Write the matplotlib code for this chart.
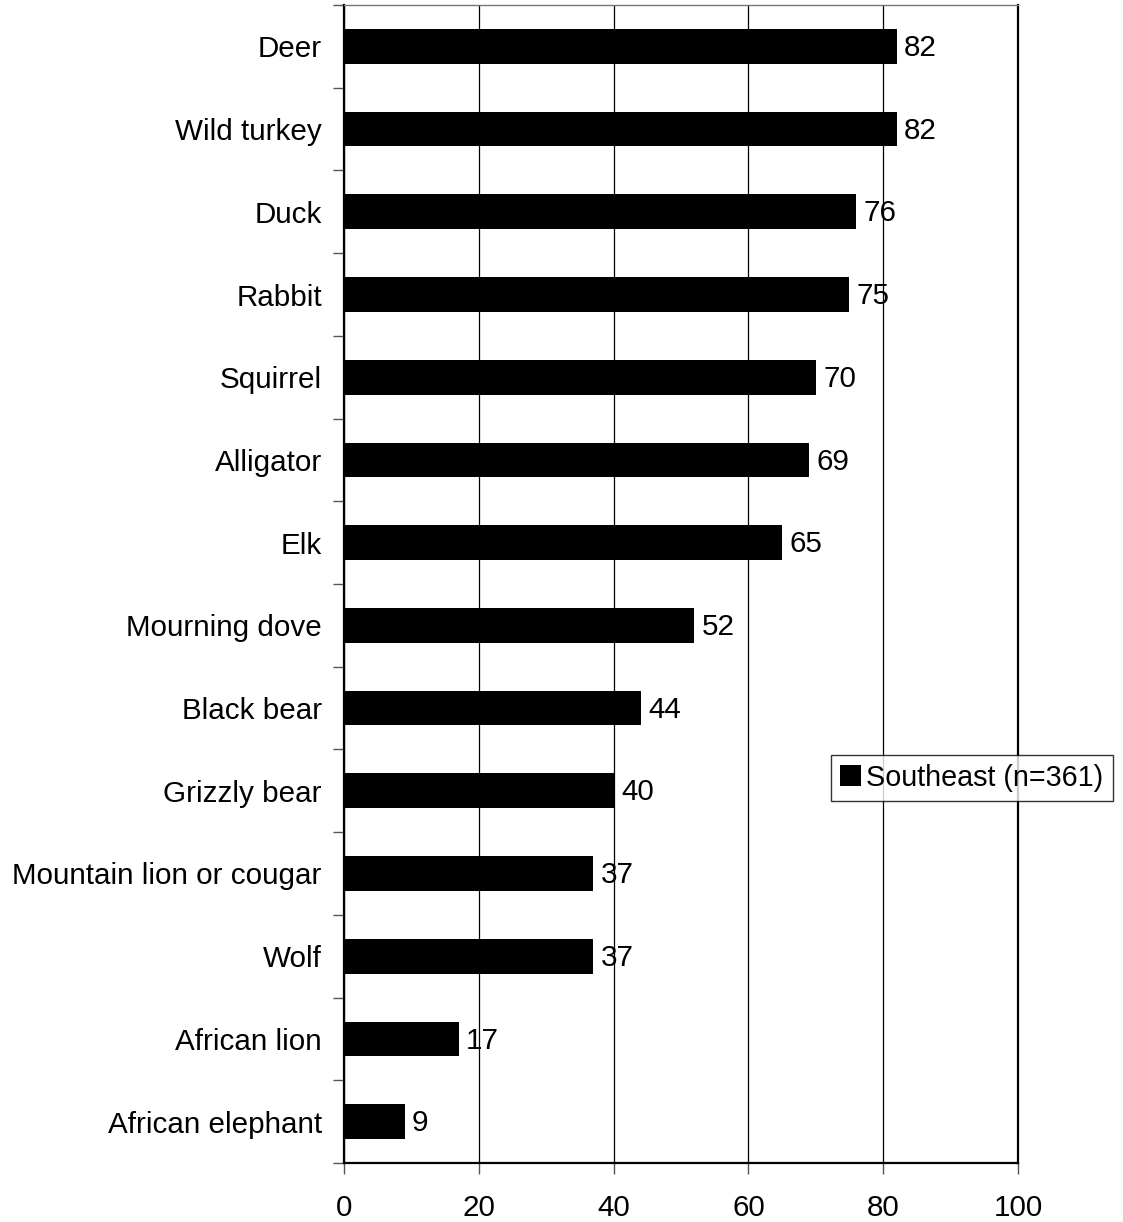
import numpy as np
import matplotlib.pyplot as plt

plt.rcParams['font.family'] = ['Liberation Sans', 'DejaVu Sans']

animals = ['Deer', 'Wild turkey', 'Duck', 'Rabbit', 'Squirrel', 'Alligator', 'Elk',
           'Mourning dove', 'Black bear', 'Grizzly bear', 'Mountain lion or cougar',
           'Wolf', 'African lion', 'African elephant']
values = [82, 82, 76, 75, 70, 69, 65, 52, 44, 40, 37, 37, 17, 9]
series_name = 'Southeast (n=361)'

fs = 21.3

fig = plt.figure(figsize=(11.23, 12.22), dpi=100)
ax = fig.add_axes([0.3063, 0.0483, 0.6002, 0.9476])

pos = np.arange(len(animals))
bars = ax.barh(pos, values, height=0.42, color='black', label=series_name, zorder=3)
ax.set_ylim(len(animals) - 0.5, -0.5)
ax.set_xlim(0, 100)

for p, v in zip(pos, values):
    ax.text(v + 1.1, p + 0.02, str(v), va='center', ha='left', fontsize=fs, zorder=4)

ax.set_yticks(pos)
ax.set_yticklabels(animals, fontsize=fs)
ax.tick_params(axis='y', which='major', length=0, pad=16)
ax.set_yticks(np.arange(-0.5, len(animals), 1), minor=True)
ax.tick_params(axis='y', which='minor', length=8, width=1, color='#555555', direction='out')

ax.set_xticks([0, 20, 40, 60, 80, 100])
ax.tick_params(axis='x', length=8, width=1, color='#555555', direction='out', labelsize=fs, pad=14)

ax.grid(axis='x', color='black', linewidth=0.9, zorder=0)
for s in ax.spines.values():
    s.set_color('black')
    s.set_linewidth(1.6)
ax.spines['top'].set_linewidth(1.0)
ax.spines['top'].set_color('#777777')

leg = ax.legend(loc='center left', bbox_to_anchor=(831 / 1123, 1 - 778 / 1222),
                bbox_transform=fig.transFigure, fontsize=fs, frameon=True,
                fancybox=False, handlelength=0.7, handleheight=0.7,
                handletextpad=0.2, borderpad=0.3, borderaxespad=0)
leg.get_frame().set_edgecolor('black')
leg.get_frame().set_linewidth(1.0)
leg._legend_box.sep = 0
for t in leg.get_texts():
    t.set_fontsize(fs - 0.6)

fig.savefig('out.png', dpi=100)
